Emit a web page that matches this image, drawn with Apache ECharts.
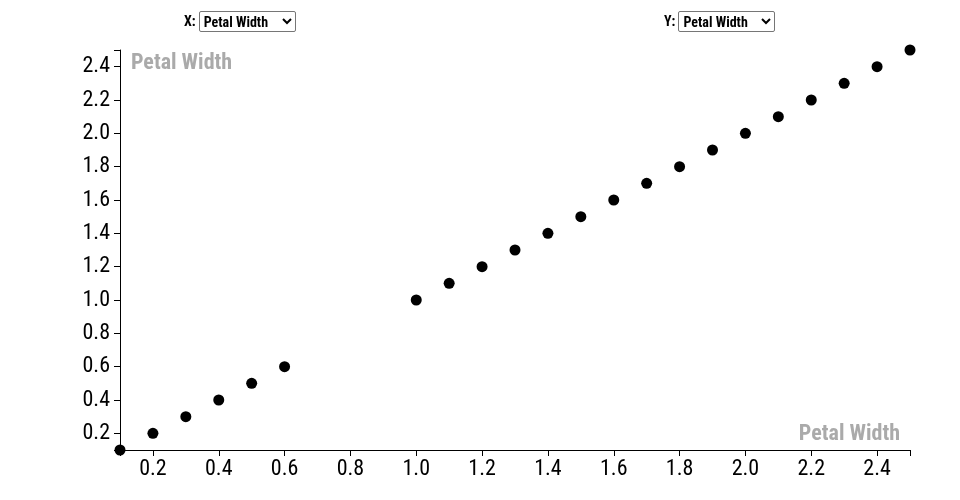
<!DOCTYPE html>
<html>
<head>
<meta charset="utf-8">
<script src="https://cdn.jsdelivr.net/npm/echarts@6/dist/echarts.min.js"></script>
<style>
  html, body { margin: 0; padding: 0; background: #fff; }
  #wrap { position: relative; width: 960px; height: 500px; }
  #chart { position: absolute; left: 0; top: 0; width: 960px; height: 500px; }
  .ctl { position: absolute; top: 11px; height: 21px; line-height: 21px; font-family: "Roboto Condensed", "DejaVu Sans Condensed", sans-serif; font-weight: bold; font-size: 14px; color: #000; z-index: 2; }
  .ctl select { font-family: inherit; font-weight: bold; font-size: 14px; width: 97px; height: 21px; margin-left: 3px; vertical-align: top; background: #fff; border: 1px solid #767676; border-radius: 2px; }
</style>
</head>
<body>
<div id="wrap">
  <div class="ctl" style="left:184px;">X:<select><option>Petal Width</option></select></div>
  <div class="ctl" style="left:664px;">Y:<select><option>Petal Width</option></select></div>
  <div id="chart"></div>
</div>
<script>
const xValues = [0.1, 0.2, 0.3, 0.4, 0.5, 0.6, 1.0, 1.1, 1.2, 1.3, 1.4, 1.5, 1.6, 1.7, 1.8, 1.9, 2.0, 2.1, 2.2, 2.3, 2.4, 2.5];
const yValues = [0.1, 0.2, 0.3, 0.4, 0.5, 0.6, 1.0, 1.1, 1.2, 1.3, 1.4, 1.5, 1.6, 1.7, 1.8, 1.9, 2.0, 2.1, 2.2, 2.3, 2.4, 2.5];
const tickLabels = [0.2, 0.4, 0.6, 0.8, 1.0, 1.2, 1.4, 1.6, 1.8, 2.0, 2.2, 2.4];
const domainMin = 0.1, domainMax = 2.5;
const xTitle = 'Petal Width', yTitle = 'Petal Width';

const FONT = '"Roboto Condensed", "DejaVu Sans Condensed", sans-serif';
const tickVals = [domainMin].concat(tickLabels, [domainMax]);

const chart = echarts.init(document.getElementById('chart'), null, { renderer: 'canvas' });
function axisCommon(margin, padding) {
  return {
    type: 'value', min: domainMin, max: domainMax,
    splitLine: { show: false },
    axisLine: { show: true, lineStyle: { color: '#000', width: 1 } },
    axisTick: { show: true, length: 6, customValues: tickVals, lineStyle: { color: '#000' } },
    axisLabel: { customValues: tickLabels, margin: margin, padding: padding, fontFamily: FONT, fontSize: 22, color: '#000',
      formatter: v => (+v).toFixed(1) }
  };
}
chart.setOption({
  animation: false,
  grid: { left: 120, right: 50, top: 50, bottom: 50 },
  xAxis: axisCommon(8, 0),
  yAxis: axisCommon(10, [4, 0, 0, 0]),
  series: [{
    type: 'scatter', symbolSize: 11,
    itemStyle: { color: '#000', opacity: 1 },
    data: xValues.map((x, i) => [x, yValues[i]])
  }],
  graphic: [
    { type: 'text', left: 131, top: 52, style: { text: yTitle, fontFamily: FONT, fontWeight: 'bold', fontSize: 22, fill: '#aaa' } },
    { type: 'text', right: 60, top: 423, style: { text: xTitle, fontFamily: FONT, fontWeight: 'bold', fontSize: 22, fill: '#aaa' } }
  ]
});
</script>
</body>
</html>
